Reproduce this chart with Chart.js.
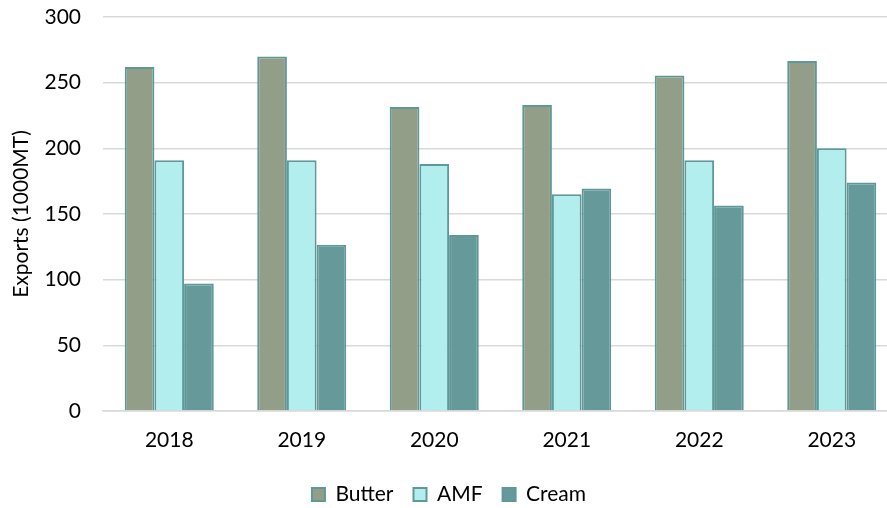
<!DOCTYPE html>
<html>
<head>
<meta charset="utf-8">
<script src="https://cdn.jsdelivr.net/npm/chart.js@4/dist/chart.umd.min.js"></script>
<style>
  html, body { margin: 0; padding: 0; background: #ffffff; overflow: hidden; }
  #wrap { width: 898px; height: 508px; }
</style>
</head>
<body>
<div id="wrap"><canvas id="chart" width="898" height="508"></canvas></div>
<script>
// Annual dairy fat exports, thousand metric tonnes
const years = ['2018', '2019', '2020', '2021', '2022', '2023'];
const butter = [262, 270, 231.5, 233, 255.5, 266.5];
const amf = [191, 191, 188, 165, 191, 200];
const cream = [97, 126.5, 134, 169.5, 156.5, 174];
const yTicks = [0, 50, 100, 150, 200, 250, 300];

const fontFamily = "Lato, 'Open Sans', 'Liberation Sans', sans-serif";
const textFont = { family: fontFamily, size: 21 };
const edge = '#5f9898';

const makeSet = (label, data, fill) => ({
  label, data,
  backgroundColor: fill,
  borderColor: edge,
  borderWidth: 2,
  borderSkipped: 'bottom',
  barPercentage: 1,
  categoryPercentage: 0.672
});

new Chart(document.getElementById('chart'), {
  type: 'bar',
  data: {
    labels: years,
    datasets: [
      makeSet('Butter', butter, '#939e89'),
      makeSet('AMF', amf, '#b3eeee'),
      makeSet('Cream', cream, '#669999')
    ]
  },
  options: {
    responsive: false,
    animation: false,
    layout: { padding: { top: 17, right: 0, bottom: -7, left: 0 } },
    plugins: {
      tooltip: { enabled: false },
      legend: {
        position: 'bottom',
        labels: {
          font: textFont,
          color: '#000000',
          boxWidth: 13,
          boxHeight: 13,
          padding: 20
        }
      }
    },
    scales: {
      x: {
        grid: { display: false, drawTicks: false },
        border: { color: '#d9d9d9', width: 1.5 },
        ticks: { font: textFont, color: '#000000', padding: 17 },
        afterFit: (axis) => { axis.height = 53; }
      },
      y: {
        min: 0,
        max: 300,
        afterBuildTicks: (axis) => { axis.ticks = yTicks.map(v => ({ value: v })); },
        afterFit: (axis) => { axis.width = 103; axis.paddingTop = 0; axis.paddingBottom = 0; },
        grid: { color: '#d9d9d9', lineWidth: 1.5, drawTicks: false },
        border: { display: false },
        ticks: { font: textFont, color: '#000000', padding: 22 },
        title: {
          display: true,
          text: 'Exports (1000MT)',
          font: textFont,
          color: '#000000',
          padding: { top: 9, bottom: 0 }
        }
      }
    }
  }
});
</script>
</body>
</html>
